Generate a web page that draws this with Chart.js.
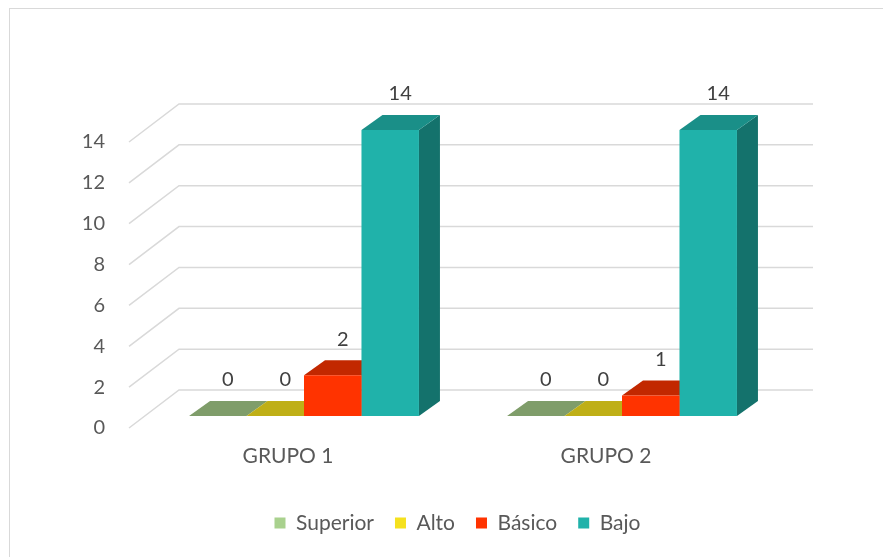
<!DOCTYPE html>
<html>
<head>
<meta charset="utf-8">
<script src="https://cdn.jsdelivr.net/npm/chart.js@4"></script>
<style>
  html, body { margin: 0; padding: 0; background: #fff; }
</style>
</head>
<body>
<canvas id="nivelChart" width="883" height="557"></canvas>
<script>
// datos
const grupos = ['GRUPO 1', 'GRUPO 2'];
const superior = [0, 0];
const alto = [0, 0];
const basico = [2, 1];
const bajo = [14, 14];
const yTicks = [0, 2, 4, 6, 8, 10, 12, 14];

// profundidad 3D
const SHIFT_X = 16, SHIFT_Y = -12;   // plano de las barras respecto al frente
const DEPTH_X = 21, DEPTH_Y = -15;   // fondo de cada barra
const FLOOR_X = 50, FLOOR_Y = -38;   // fondo de la pared

const shades = [
    { front: '#a9d18e', top: '#7f9d6a', side: '#66804f' },
    { front: '#f5e11e', top: '#bfaf17', side: '#968a12' },
    { front: '#ff3300', top: '#c22800', side: '#991f00' },
    { front: '#20b2aa', top: '#1a8f88', side: '#14726c' }
];

const bars3d = {
    id: 'bars3d',
    afterLayout(chart) {
        // la leyenda va centrada en todo el lienzo, no solo en el area del grafico
        chart.legend.left += 75;
        chart.legend.right += 75;
    },
    beforeDraw(chart) {
        const c = chart.ctx;
        c.save();
        c.strokeStyle = '#d9d9d9';
        c.lineWidth = 1;
        c.strokeRect(9.5, 8.5, 1000, 1000);
        c.restore();
    },
    beforeDatasetsDraw(chart) {
        const c = chart.ctx;
        const area = chart.chartArea;
        const y = chart.scales.y;
        // rejilla en perspectiva
        c.save();
        c.strokeStyle = '#d9d9d9';
        c.lineWidth = 1.5;
        yTicks.forEach(v => {
            const py = y.getPixelForValue(v);
            c.beginPath();
            c.moveTo(area.left, py);
            c.lineTo(area.left + FLOOR_X, py + FLOOR_Y);
            c.lineTo(area.right + FLOOR_X - 2, py + FLOOR_Y);
            c.stroke();
        });
        // caras superior y lateral, de izquierda a derecha
        chart.data.labels.forEach((lbl, i) => {
            chart.data.datasets.forEach((ds, d) => {
                const bar = chart.getDatasetMeta(d).data[i];
                const l = bar.x - bar.width / 2 + SHIFT_X;
                const r = bar.x + bar.width / 2 + SHIFT_X;
                const t = bar.y + SHIFT_Y;
                const b = bar.base + SHIFT_Y;
                c.fillStyle = shades[d].side;
                c.beginPath();
                c.moveTo(r, t);
                c.lineTo(r + DEPTH_X, t + DEPTH_Y);
                c.lineTo(r + DEPTH_X, b + DEPTH_Y);
                c.lineTo(r, b);
                c.closePath();
                c.fill();
                c.fillStyle = shades[d].top;
                c.beginPath();
                c.moveTo(l, t);
                c.lineTo(l + DEPTH_X, t + DEPTH_Y);
                c.lineTo(r + DEPTH_X, t + DEPTH_Y);
                c.lineTo(r, t);
                c.closePath();
                c.fill();
            });
        });
        c.restore();
        c.save();
        c.translate(SHIFT_X, SHIFT_Y);
    },
    afterDatasetsDraw(chart) {
        const c = chart.ctx;
        c.restore();
        c.save();
        c.fillStyle = '#404040';
        c.font = '20px Lato';
        c.textAlign = 'center';
        c.textBaseline = 'middle';
        chart.data.datasets.forEach((ds, d) => {
            chart.getDatasetMeta(d).data.forEach((bar, i) => {
                c.fillText(String(ds.data[i]), bar.x + SHIFT_X + 10, bar.y + SHIFT_Y + DEPTH_Y - 21);
            });
        });
        c.restore();
    }
};

const ctx = document.getElementById('nivelChart').getContext('2d');
new Chart(ctx, {
    type: 'bar',
    data: {
        labels: grupos,
        datasets: [
            { label: 'Superior', data: superior, backgroundColor: shades[0].front },
            { label: 'Alto', data: alto, backgroundColor: shades[1].front },
            { label: 'Básico', data: basico, backgroundColor: shades[2].front },
            { label: 'Bajo', data: bajo, backgroundColor: shades[3].front }
        ]
    },
    options: {
        responsive: false,
        animation: false,
        devicePixelRatio: 1,
        datasets: {
            bar: {
                barPercentage: 1,
                categoryPercentage: 0.723,
                borderWidth: 0,
                clip: false
            }
        },
        layout: {
            padding: { left: 0, right: 118, top: 142, bottom: 13.5 }
        },
        plugins: {
            legend: {
                position: 'bottom',
                labels: {
                    boxWidth: 11,
                    boxHeight: 11,
                    padding: 21,
                    color: '#595959',
                    font: { family: 'Lato', size: 21 }
                }
            },
            tooltip: { enabled: false }
        },
        scales: {
            x: {
                grid: { display: false, drawTicks: false },
                border: { display: false },
                ticks: {
                    color: '#595959',
                    padding: 16,
                    font: { family: 'Lato', size: 21 }
                },
                afterFit(scale) { scale.height = 63.5; }
            },
            y: {
                min: 0,
                max: 14,
                grid: { display: false, drawTicks: false },
                border: { display: false },
                ticks: {
                    stepSize: 2,
                    color: '#595959',
                    padding: 24,
                    font: { family: 'Lato', size: 20 }
                },
                afterFit(scale) { scale.width = 129; }
            }
        }
    },
    plugins: [bars3d]
});
</script>
</body>
</html>
